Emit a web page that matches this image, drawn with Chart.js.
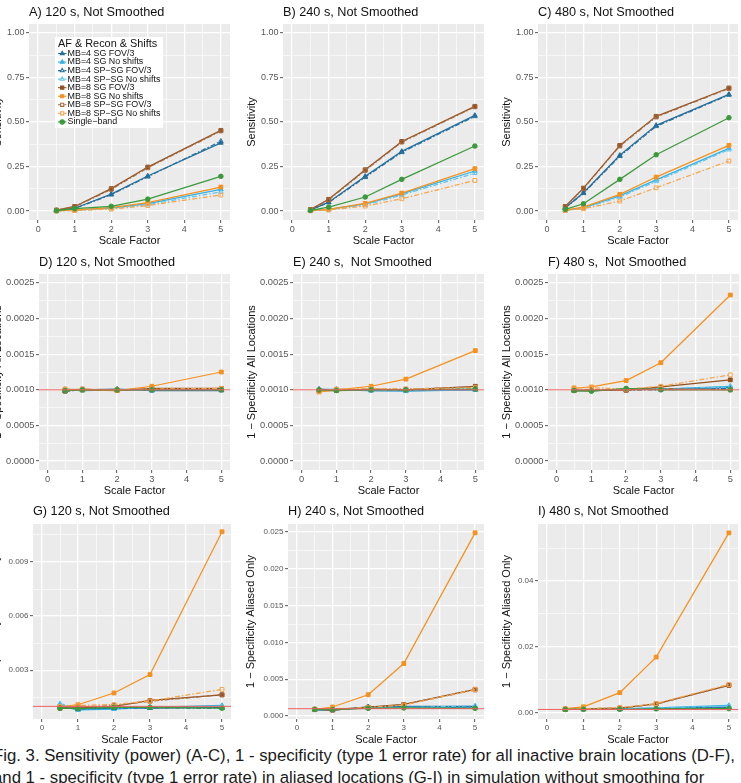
<!DOCTYPE html>
<html><head><meta charset="utf-8">
<script src="https://cdn.jsdelivr.net/npm/chart.js@4.4.1/dist/chart.umd.min.js"></script>
<style>
html,body{margin:0;padding:0;background:#fff;width:741px;height:783px;overflow:hidden;position:relative;font-family:"Liberation Sans",Arial,sans-serif;}
canvas{position:absolute;}
#caption{position:absolute;left:-7px;top:745px;white-space:nowrap;font-size:16px;line-height:22px;color:#1a1a1a;z-index:0;}
</style></head><body>
<div id="caption"><div id="cap1">Fig. 3. Sensitivity (power) (A-C), 1 - specificity (type 1 error rate) for all inactive brain locations (D-F),</div><div>and 1 - specificity (type 1 error rate) in aliased locations (G-I) in simulation without smoothing for</div></div>
<script>
// ---------------- DATA ----------------
const scaleFactors = [0.5, 1, 2, 3, 5];
const seriesNames = ["MB=4 SG FOV/3","MB=4 SG No shifts","MB=4 SP\u2212SG FOV/3","MB=4 SP\u2212SG No shifts",
  "MB=8 SG FOV/3","MB=8 SG No shifts","MB=8 SP\u2212SG FOV/3","MB=8 SP\u2212SG No shifts","Single\u2212band"];
const legendTitle = "AF & Recon & Shifts";

// Sensitivity, rows follow seriesNames
const sens120 = [
  [0.003,0.016,0.095,0.197,0.383],
  [0.002,0.005,0.017,0.042,0.122],
  [0.003,0.015,0.092,0.193,0.392],
  [0.001,0.004,0.014,0.036,0.108],
  [0.005,0.026,0.126,0.247,0.453],
  [0.002,0.006,0.019,0.047,0.135],
  [0.005,0.024,0.122,0.243,0.450],
  [0.001,0.003,0.011,0.031,0.090],
  [0.002,0.014,0.027,0.067,0.195]];
const sens240 = [
  [0.006,0.050,0.195,0.335,0.537],
  [0.003,0.009,0.040,0.097,0.225],
  [0.006,0.048,0.190,0.330,0.532],
  [0.002,0.007,0.035,0.090,0.213],
  [0.008,0.066,0.232,0.391,0.588],
  [0.003,0.010,0.043,0.101,0.238],
  [0.008,0.063,0.228,0.387,0.585],
  [0.002,0.006,0.028,0.069,0.172],
  [0.004,0.022,0.079,0.178,0.365]];
const sens480 = [
  [0.019,0.103,0.313,0.481,0.655],
  [0.004,0.019,0.085,0.175,0.352],
  [0.018,0.100,0.308,0.476,0.652],
  [0.003,0.016,0.079,0.167,0.345],
  [0.026,0.129,0.369,0.532,0.691],
  [0.005,0.022,0.094,0.191,0.369],
  [0.025,0.126,0.365,0.528,0.688],
  [0.003,0.013,0.056,0.131,0.281],
  [0.010,0.041,0.178,0.316,0.524]];
// 1 - specificity, all locations
const allLoc120 = [
  [0.00099,0.00100,0.00101,0.00099,0.00099],
  [0.00100,0.00099,0.00100,0.00100,0.00100],
  [0.00098,0.00100,0.00100,0.00099,0.00100],
  [0.00101,0.00100,0.00099,0.00100,0.00101],
  [0.00098,0.00101,0.00099,0.00102,0.00102],
  [0.00101,0.00100,0.00099,0.00105,0.00125],
  [0.00099,0.00100,0.00100,0.00101,0.00101],
  [0.00100,0.00101,0.00100,0.00101,0.00102],
  [0.00099,0.00100,0.00100,0.00100,0.00100]];
const allLoc240 = [
  [0.00101,0.00100,0.00099,0.00099,0.00100],
  [0.00100,0.00101,0.00099,0.00098,0.00100],
  [0.00100,0.00100,0.00100,0.00100,0.00101],
  [0.00099,0.00100,0.00100,0.00099,0.00102],
  [0.00099,0.00099,0.00101,0.00100,0.00105],
  [0.00097,0.00100,0.00105,0.00115,0.00155],
  [0.00099,0.00100,0.00101,0.00101,0.00104],
  [0.00098,0.00101,0.00102,0.00101,0.00103],
  [0.00100,0.00099,0.00100,0.00100,0.00101]];
const allLoc480 = [
  [0.00099,0.00099,0.00100,0.00101,0.00103],
  [0.00100,0.00099,0.00101,0.00101,0.00105],
  [0.00099,0.00100,0.00100,0.00100,0.00102],
  [0.00100,0.00100,0.00100,0.00101,0.00104],
  [0.00099,0.00099,0.00100,0.00104,0.00114],
  [0.00102,0.00104,0.00113,0.00138,0.00233],
  [0.00099,0.00100,0.00099,0.00102,0.00100],
  [0.00103,0.00103,0.00101,0.00105,0.00121],
  [0.00099,0.00098,0.00102,0.00100,0.00100]];
// 1 - specificity, aliased locations only
const aliased120 = [
  [0.00095,0.00085,0.00090,0.00090,0.00095],
  [0.00110,0.00080,0.00085,0.00095,0.00105],
  [0.00100,0.00085,0.00090,0.00092,0.00090],
  [0.00115,0.00090,0.00100,0.00095,0.00100],
  [0.00090,0.00092,0.00100,0.00133,0.00163],
  [0.00096,0.00109,0.00174,0.00276,0.01067],
  [0.00092,0.00095,0.00105,0.00128,0.00165],
  [0.00100,0.00105,0.00110,0.00130,0.00194],
  [0.00090,0.00088,0.00095,0.00095,0.00090]];
const aliased240 = [
  [0.00085,0.00080,0.00125,0.00130,0.00130],
  [0.00080,0.00085,0.00110,0.00120,0.00110],
  [0.00090,0.00085,0.00120,0.00125,0.00125],
  [0.00085,0.00090,0.00110,0.00115,0.00140],
  [0.00090,0.00080,0.00120,0.00159,0.00364],
  [0.00091,0.00123,0.00290,0.00714,0.02490],
  [0.00092,0.00085,0.00115,0.00155,0.00355],
  [0.00095,0.00100,0.00115,0.00150,0.00360],
  [0.00090,0.00090,0.00105,0.00110,0.00105]];
const aliased480 = [
  [0.00100,0.00110,0.00110,0.00130,0.00170],
  [0.00110,0.00115,0.00120,0.00150,0.00220],
  [0.00100,0.00105,0.00105,0.00125,0.00160],
  [0.00110,0.00120,0.00125,0.00145,0.00200],
  [0.00100,0.00120,0.00140,0.00270,0.00830],
  [0.00122,0.00180,0.00610,0.01690,0.05460],
  [0.00095,0.00115,0.00145,0.00260,0.00840],
  [0.00110,0.00125,0.00150,0.00280,0.00860],
  [0.00100,0.00105,0.00105,0.00120,0.00125]];

const nominalRate = 0.001;

// tick values and labels
const xTicks = [0,1,2,3,4,5];
const xTickLabels = ["0","1","2","3","4","5"];
const sensTicks = [0,0.25,0.5,0.75,1];
const sensTickLabels = ["0.00","0.25","0.50","0.75","1.00"];
const allLocTicks = [0,0.0005,0.001,0.0015,0.002,0.0025];
const allLocTickLabels = ["0.0000","0.0005","0.0010","0.0015","0.0020","0.0025"];
const ali120Ticks = [0.003,0.006,0.009];
const ali120TickLabels = ["0.003","0.006","0.009"];
const ali240Ticks = [0,0.005,0.01,0.015,0.02,0.025];
const ali240TickLabels = ["0.000","0.005","0.010","0.015","0.020","0.025"];
const ali480Ticks = [0,0.02,0.04];
const ali480TickLabels = ["0.00","0.02","0.04"];

const panelTitles = ["A) 120 s, Not Smoothed","B) 240 s, Not Smoothed","C) 480 s, Not Smoothed",
  "D) 120 s, Not Smoothed","E) 240 s,  Not Smoothed","F) 480 s,  Not Smoothed",
  "G) 120 s, Not Smoothed","H) 240 s, Not Smoothed","I) 480 s, Not Smoothed"];
const yTitles = ["Sensitivity","1 \u2212 Specificity All Locations","1 \u2212 Specificity Aliased Only"];
const xTitle = "Scale Factor";

// ---------------- STYLE / LAYOUT ----------------
const FONT = '"Liberation Sans", Arial, sans-serif';
const TICK_COLOR = '#575757';
const dashSP = [5,2,1.5,2];
const seriesStyle = [
  {color:'#246f9c', dash:[], shape:'triangle', fill:true},
  {color:'#2fb2e6', dash:[], shape:'triangle', fill:true},
  {color:'#246f9c', dash:dashSP, shape:'triangle', fill:false},
  {color:'#62c6ee', dash:dashSP, shape:'triangle', fill:false},
  {color:'#93501e', dash:[], shape:'rect', fill:true},
  {color:'#f5911e', dash:[], shape:'rect', fill:true},
  {color:'#a56a40', dash:dashSP, shape:'rect', fill:false},
  {color:'#f5a650', dash:dashSP, shape:'rect', fill:false},
  {color:'#3c9a3c', dash:[], shape:'circle', fill:true}
];
const xLim = [-0.25, 5.25];

const panels = [
  {data:sens120, yT:sensTicks, yL:sensTickLabels, yMin:-0.05, yMax:1.05, row:0, legend:true},
  {data:sens240, yT:sensTicks, yL:sensTickLabels, yMin:-0.05, yMax:1.05, row:0},
  {data:sens480, yT:sensTicks, yL:sensTickLabels, yMin:-0.05, yMax:1.05, row:0},
  {data:allLoc120, yT:allLocTicks, yL:allLocTickLabels, yMin:-0.000125, yMax:0.002625, row:1, hline:true},
  {data:allLoc240, yT:allLocTicks, yL:allLocTickLabels, yMin:-0.000125, yMax:0.002625, row:1, hline:true},
  {data:allLoc480, yT:allLocTicks, yL:allLocTickLabels, yMin:-0.000125, yMax:0.002625, row:1, hline:true},
  {data:aliased120, yT:ali120Ticks, yL:ali120TickLabels, yMin:0.0003, yMax:0.0111, row:2, hline:true},
  {data:aliased240, yT:ali240Ticks, yL:ali240TickLabels, yMin:-0.0004, yMax:0.0261, row:2, hline:true},
  {data:aliased480, yT:ali480Ticks, yL:ali480TickLabels, yMin:-0.0019, yMax:0.0573, row:2, hline:true}
];
// chart area rectangles in page pixels + y-title offset
const boxes = [
  {l:29,t:24,r:230,b:220,yg:31},{l:283,t:24,r:484,b:220,yg:31},{l:538,t:24,r:738,b:220,yg:31},
  {l:39,t:274,r:230,b:470,yg:41},{l:293,t:274,r:484,b:470,yg:41},{l:548,t:274,r:739,b:470,yg:41},
  {l:33,t:524,r:231,b:719,yg:37},{l:288,t:524,r:484,b:719,yg:37},{l:538,t:524,r:738,b:719,yg:31}
];
const rowStyle = [
  {tick:9, xTitleGap:20.5, titleGap:12, xLabGap:9.5},
  {tick:9.3, xTitleGap:20.5, titleGap:12, xLabGap:9.6},
  {tick:8, xTitleGap:21, titleGap:12.3, xLabGap:8.8}
];
const AX_W = 60, AX_H = 32, PAD_T = 28, PAD_R = 3;

// major ticks (grid + tick mark + label) and minor ticks (grid only, at midpoints)
function buildTicks(majors, lo, hi){
  const step = majors[1]-majors[0];
  const out = [];
  for (let k=-2; k<majors.length*2+2; k++){
    const v = Number((majors[0] + k*step/2).toPrecision(10));
    if (v < lo - 1e-12 || v > hi + 1e-12) continue;
    out.push({value: v, major: (k % 2 === 0) && k >= 0 && k/2 < majors.length});
  }
  return out;
}
function isMajorCtx(c){ return !!(c.tick && c.tick.major); }

const decor = {
  id:'decor',
  beforeDraw(chart){
    const {ctx, chartArea:a} = chart;
    ctx.save(); ctx.fillStyle = '#EBEBEB';
    ctx.fillRect(a.left, a.top, a.right-a.left, a.bottom-a.top); ctx.restore();
  },
  afterDraw(chart, args, o){
    const {ctx, chartArea:a} = chart;
    const xs = chart.scales.x, ys = chart.scales.y;
    ctx.save();
    // tick labels, positioned by the chart's own scales
    ctx.fillStyle = TICK_COLOR;
    ctx.font = `${o.tickSize}px ${FONT}`;
    ctx.textAlign = 'right'; ctx.textBaseline = 'middle';
    o.yT.forEach((v, i) => ctx.fillText(o.yL[i], a.left - 4.5, ys.getPixelForValue(v)));
    ctx.textAlign = 'center';
    o.xT.forEach((v, i) => ctx.fillText(o.xL[i], xs.getPixelForValue(v), a.bottom + o.xLabGap));
    // titles
    ctx.fillStyle = '#111';
    ctx.font = `12.7px ${FONT}`; ctx.textAlign = 'left';
    ctx.fillText(o.title, a.left, a.top - o.titleGap);
    ctx.font = `11px ${FONT}`; ctx.textAlign = 'center';
    ctx.fillText(o.xTitle, (a.left+a.right)/2, a.bottom + o.xTitleGap);
    ctx.translate(a.left - o.yGap, (a.top+a.bottom)/2);
    ctx.rotate(-Math.PI/2);
    ctx.fillText(o.yTitle, 0, 0);
    ctx.restore();
    if (o.legend) drawLegend(chart);
  }
};
function drawLegend(chart){
  const {ctx, chartArea:a} = chart;
  ctx.save();
  ctx.fillStyle = '#fff';
  ctx.fillRect(a.left+26, a.top+13, 108, 91);
  ctx.fillStyle = '#111'; ctx.textBaseline = 'middle'; ctx.textAlign = 'left';
  ctx.font = `10.9px ${FONT}`;
  ctx.fillText(legendTitle, a.left+29, a.top+19.5);
  ctx.font = `8.9px ${FONT}`;
  seriesNames.forEach((name, i) => {
    const s = seriesStyle[i];
    const y = a.top + 29.5 + i*8.55;
    ctx.strokeStyle = s.color; ctx.lineWidth = 1.1; ctx.setLineDash(s.dash.map(d=>d*0.6));
    ctx.beginPath(); ctx.moveTo(a.left+29, y); ctx.lineTo(a.left+37.4, y); ctx.stroke();
    ctx.setLineDash([]);
    ctx.fillStyle = s.fill ? s.color : '#fff';
    Chart.helpers.drawPoint(ctx, {pointStyle:s.shape, rotation:0, radius:2.2, borderWidth:1}, a.left+33.2, y);
    ctx.fillStyle = '#111';
    ctx.fillText(name, a.left+38.6, y);
  });
  ctx.restore();
}

panels.forEach((p, idx) => {
  const bx = boxes[idx], rs = rowStyle[p.row];
  const cv = document.createElement('canvas');
  const w = bx.r - bx.l + AX_W + PAD_R, h = bx.b - bx.t + PAD_T + AX_H;
  cv.width = w; cv.height = h;
  cv.style.left = (bx.l - AX_W) + 'px'; cv.style.top = (bx.t - PAD_T) + 'px';
  cv.style.width = w + 'px'; cv.style.height = h + 'px';
  cv.style.zIndex = String(20 - (idx % 3));
  document.body.appendChild(cv);

  const datasets = p.data.map((vals, i) => {
    const s = seriesStyle[i];
    return {
      label: seriesNames[i],
      data: scaleFactors.map((x, j) => ({x, y: vals[j]})),
      borderColor: s.color, backgroundColor: s.fill ? s.color : 'rgba(0,0,0,0)',
      borderWidth: 1.25, borderDash: s.dash, tension: 0,
      pointStyle: s.shape, pointRadius: s.shape === 'circle' ? 2.3 : 2.7, pointBorderWidth: 1,
      pointBackgroundColor: s.fill ? s.color : 'rgba(0,0,0,0)', pointBorderColor: s.color,
      order: 20 - i
    };
  });
  if (p.hline) datasets.push({
    label: 'nominal', data: [{x:xLim[0], y:nominalRate},{x:xLim[1], y:nominalRate}],
    borderColor:'#ef5f5f', borderWidth:1, pointRadius:0, order:0
  });

  const yTickObjs = buildTicks(p.yT, p.yMin, p.yMax);
  const xTickObjs = buildTicks(xTicks, xLim[0], xLim[1]);
  const gridOpts = {color: '#ffffff', lineWidth: c => isMajorCtx(c) ? 1.3 : 0.6,
    tickLength: 3, tickWidth: 1, tickColor: c => isMajorCtx(c) ? '#555' : 'rgba(0,0,0,0)'};

  new Chart(cv, {
    type: 'line',
    data: {datasets},
    options: {
      responsive: false, animation: false, devicePixelRatio: 1,
      layout: {padding: {top: PAD_T, right: PAD_R, left: 0, bottom: 0}, autoPadding: false},
      plugins: {legend: {display: false}, tooltip: {enabled: false},
        decor: {title: panelTitles[idx], xTitle, yTitle: yTitles[p.row], yGap: bx.yg,
                titleGap: rs.titleGap, xTitleGap: rs.xTitleGap, xLabGap: rs.xLabGap, tickSize: rs.tick,
                yT: p.yT, yL: p.yL, xT: xTicks, xL: xTickLabels, legend: !!p.legend}},
      scales: {
        x: {
          type: 'linear', min: xLim[0], max: xLim[1],
          afterBuildTicks: s => { s.ticks = xTickObjs.map(t => ({...t})); },
          afterFit: s => { s.height = AX_H; },
          ticks: {display: false, autoSkip: false},
          grid: gridOpts,
          border: {display: false}
        },
        y: {
          type: 'linear', min: p.yMin, max: p.yMax,
          afterBuildTicks: s => { s.ticks = yTickObjs.map(t => ({...t})); },
          afterFit: s => { s.width = AX_W; },
          ticks: {display: false, autoSkip: false},
          grid: gridOpts,
          border: {display: false}
        }
      }
    },
    plugins: [decor]
  });
});

// fit caption first line to its width in the figure
(function(){
  const c = document.getElementById('caption');
  const l1 = document.getElementById('cap1');
  const target = 742;
  const span = document.createElement('span'); span.textContent = l1.textContent;
  span.style.whiteSpace = 'nowrap'; l1.textContent = ''; l1.appendChild(span);
  const sw = span.getBoundingClientRect().width;
  if (sw > 0) c.style.fontSize = (16 * target / sw).toFixed(2) + 'px';
})();
</script>
</body></html>
